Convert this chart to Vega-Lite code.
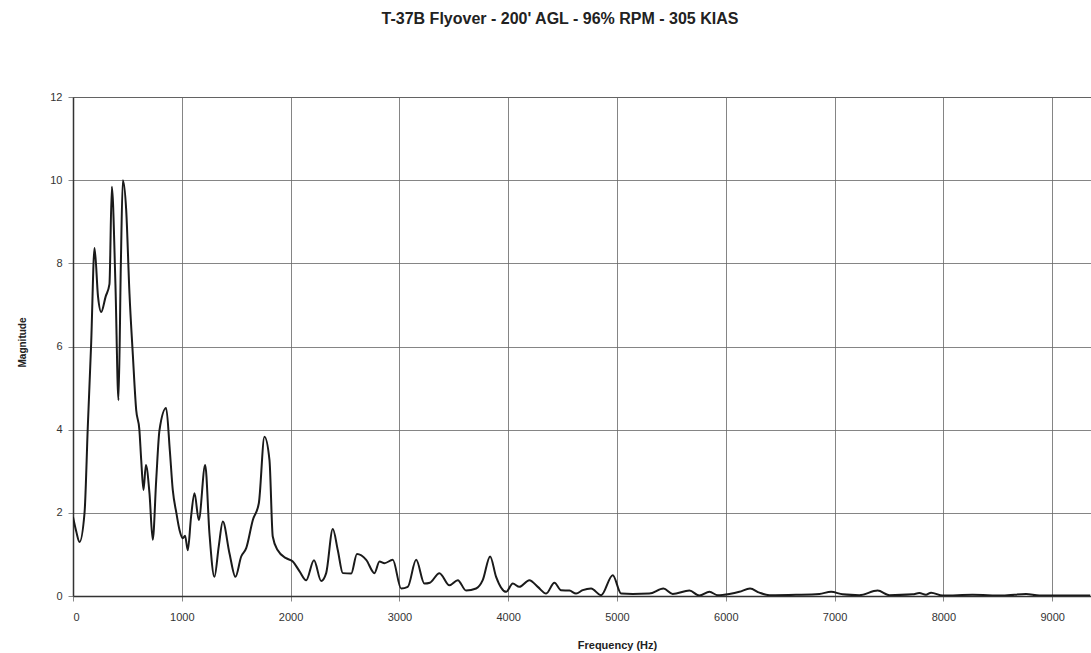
{
  "$schema": "https://vega.github.io/schema/vega-lite/v6.json",
  "autosize": "none",
  "width": 1018,
  "height": 499,
  "padding": {"left": 73, "top": 97, "right": 0, "bottom": 57},
  "background": "white",
  "title": {
    "text": "T-37B Flyover - 200' AGL - 96% RPM - 305 KIAS",
    "font": "Liberation Sans",
    "fontSize": 16,
    "fontWeight": "bold",
    "color": "#222",
    "anchor": "middle",
    "dx": -22,
    "offset": 64
  },
  "config": {
    "view": {"stroke": "#555", "strokeWidth": 1},
    "axis": {
      "labelFont": "Liberation Sans",
      "labelFontSize": 11,
      "labelColor": "#333",
      "titleFont": "Liberation Sans",
      "titleFontSize": 11,
      "titleFontWeight": "bold",
      "titleColor": "#222",
      "gridColor": "#666",
      "gridOpacity": 0.8,
      "gridWidth": 1,
      "tickColor": "#888",
      "tickSize": 5,
      "domainColor": "#333",
      "domainWidth": 1.5
    }
  },
  "data": {
    "values": [
      {"f": 0, "m": 1.9}, {"f": 30, "m": 1.55}, {"f": 60, "m": 1.3}, {"f": 106, "m": 2.0},
      {"f": 136, "m": 4.07}, {"f": 167, "m": 6.08}, {"f": 198, "m": 8.37}, {"f": 230, "m": 7.2},
      {"f": 259, "m": 6.83}, {"f": 300, "m": 7.2}, {"f": 335, "m": 7.5}, {"f": 357, "m": 9.84},
      {"f": 390, "m": 7.5}, {"f": 418, "m": 4.71}, {"f": 440, "m": 8.0}, {"f": 458, "m": 10.0},
      {"f": 489, "m": 9.28}, {"f": 519, "m": 7.28}, {"f": 550, "m": 5.8}, {"f": 581, "m": 4.47},
      {"f": 610, "m": 4.0}, {"f": 627, "m": 3.27}, {"f": 648, "m": 2.55}, {"f": 670, "m": 3.15},
      {"f": 703, "m": 2.47}, {"f": 733, "m": 1.35}, {"f": 765, "m": 2.8}, {"f": 795, "m": 3.99},
      {"f": 856, "m": 4.52}, {"f": 890, "m": 3.5}, {"f": 917, "m": 2.55}, {"f": 950, "m": 2.0},
      {"f": 979, "m": 1.59}, {"f": 1009, "m": 1.39}, {"f": 1030, "m": 1.45}, {"f": 1055, "m": 1.1},
      {"f": 1085, "m": 1.9}, {"f": 1117, "m": 2.47}, {"f": 1156, "m": 1.83}, {"f": 1215, "m": 3.15},
      {"f": 1254, "m": 1.51}, {"f": 1300, "m": 0.46}, {"f": 1340, "m": 1.2}, {"f": 1377, "m": 1.79},
      {"f": 1438, "m": 1.03}, {"f": 1493, "m": 0.46}, {"f": 1546, "m": 0.95}, {"f": 1592, "m": 1.15},
      {"f": 1653, "m": 1.83}, {"f": 1708, "m": 2.23}, {"f": 1760, "m": 3.83}, {"f": 1806, "m": 3.27},
      {"f": 1836, "m": 1.43}, {"f": 1882, "m": 1.1}, {"f": 1959, "m": 0.91}, {"f": 2020, "m": 0.83},
      {"f": 2081, "m": 0.6}, {"f": 2143, "m": 0.38}, {"f": 2215, "m": 0.86}, {"f": 2281, "m": 0.36},
      {"f": 2327, "m": 0.55}, {"f": 2388, "m": 1.61}, {"f": 2434, "m": 1.1}, {"f": 2480, "m": 0.55},
      {"f": 2557, "m": 0.54}, {"f": 2610, "m": 1.01}, {"f": 2695, "m": 0.87}, {"f": 2771, "m": 0.55},
      {"f": 2817, "m": 0.83}, {"f": 2863, "m": 0.79}, {"f": 2939, "m": 0.87}, {"f": 3016, "m": 0.18},
      {"f": 3077, "m": 0.22}, {"f": 3154, "m": 0.87}, {"f": 3230, "m": 0.3}, {"f": 3280, "m": 0.32},
      {"f": 3368, "m": 0.55}, {"f": 3460, "m": 0.26}, {"f": 3537, "m": 0.38}, {"f": 3613, "m": 0.13},
      {"f": 3705, "m": 0.18}, {"f": 3766, "m": 0.38}, {"f": 3834, "m": 0.95}, {"f": 3889, "m": 0.46},
      {"f": 3981, "m": 0.1}, {"f": 4042, "m": 0.3}, {"f": 4103, "m": 0.22}, {"f": 4195, "m": 0.38},
      {"f": 4272, "m": 0.22}, {"f": 4349, "m": 0.06}, {"f": 4425, "m": 0.32}, {"f": 4486, "m": 0.14},
      {"f": 4563, "m": 0.13}, {"f": 4624, "m": 0.06}, {"f": 4685, "m": 0.14}, {"f": 4762, "m": 0.18},
      {"f": 4854, "m": 0.02}, {"f": 4961, "m": 0.5}, {"f": 5038, "m": 0.06}, {"f": 5145, "m": 0.05},
      {"f": 5298, "m": 0.06}, {"f": 5427, "m": 0.18}, {"f": 5512, "m": 0.05}, {"f": 5666, "m": 0.13},
      {"f": 5758, "m": 0.01}, {"f": 5850, "m": 0.1}, {"f": 5926, "m": 0.02}, {"f": 6033, "m": 0.05},
      {"f": 6125, "m": 0.1}, {"f": 6223, "m": 0.18}, {"f": 6309, "m": 0.08}, {"f": 6401, "m": 0.02},
      {"f": 6646, "m": 0.03}, {"f": 6860, "m": 0.05}, {"f": 6968, "m": 0.1}, {"f": 7075, "m": 0.04},
      {"f": 7228, "m": 0.02}, {"f": 7396, "m": 0.13}, {"f": 7503, "m": 0.02}, {"f": 7718, "m": 0.04},
      {"f": 7779, "m": 0.07}, {"f": 7840, "m": 0.03}, {"f": 7887, "m": 0.08}, {"f": 7993, "m": 0.01},
      {"f": 8269, "m": 0.03}, {"f": 8545, "m": 0.01}, {"f": 8760, "m": 0.05}, {"f": 8883, "m": 0.01},
      {"f": 9097, "m": 0.01}, {"f": 9350, "m": 0.01}
    ]
  },
  "mark": {"type": "line", "color": "#1a1a1a", "strokeWidth": 2, "interpolate": "monotone", "clip": true},
  "encoding": {
    "x": {
      "field": "f",
      "type": "quantitative",
      "scale": {"domain": [0, 9357], "nice": false},
      "axis": {
        "values": [0, 1000, 2000, 3000, 4000, 5000, 6000, 7000, 8000, 9000],
        "format": "d",
        "title": "Frequency (Hz)",
        "labelPadding": 10,
        "titleX": 544,
        "titleY": 49,
        "titleBaseline": "middle",
        "titleAlign": "center"
      }
    },
    "y": {
      "field": "m",
      "type": "quantitative",
      "scale": {"domain": [0, 12], "nice": false},
      "axis": {
        "values": [0, 2, 4, 6, 8, 10, 12],
        "title": "Magnitude",
        "titleFontSize": 10,
        "labelPadding": 6,
        "titleX": -51,
        "titleY": 245,
        "titleBaseline": "middle",
        "titleAlign": "center"
      }
    }
  }
}
